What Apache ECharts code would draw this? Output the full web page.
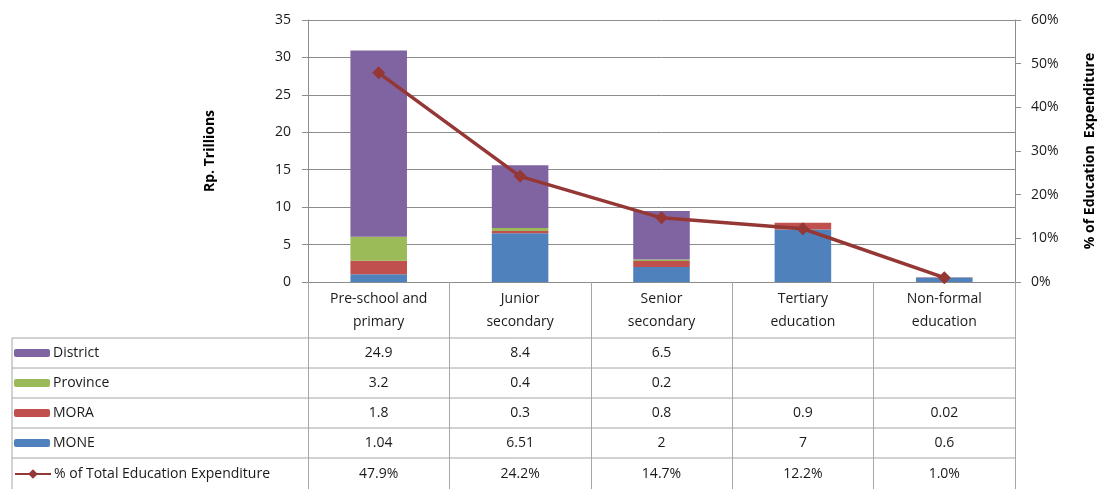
<!DOCTYPE html>
<html>
<head>
<meta charset="utf-8">
<script src="https://cdn.jsdelivr.net/npm/echarts@6/dist/echarts.min.js"></script>
<style>
  html, body { margin: 0; padding: 0; background: #fff; }
  #main { width: 1099px; height: 489px; }
</style>
</head>
<body>
<div id="main"></div>
<script>
const categories = ['Pre-school and\nprimary', 'Junior\nsecondary', 'Senior\nsecondary', 'Tertiary\neducation', 'Non-formal\neducation'];
const district = [24.9, 8.4, 6.5, null, null];
const province = [3.2, 0.4, 0.2, null, null];
const mora = [1.8, 0.3, 0.8, 0.9, 0.02];
const mone = [1.04, 6.51, 2, 7, 0.6];
const pctTotal = [47.9, 24.2, 14.7, 12.2, 1.0];

const FONT = 'Open Sans';
const TXT = '#1a1a1a';
const GRID_L = 308, GRID_R = 1015, GRID_T = 20, GRID_B = 282;
const rowCenters = [353, 383, 413, 443, 474];
const lineColor = '#953735';

const chartDom = document.getElementById('main');
const myChart = echarts.init(chartDom);

function rowAxis(vals, idx, fmt) {
    return {
        type: 'category',
        gridIndex: 0,
        position: 'bottom',
        offset: rowCenters[idx] - GRID_B,
        data: vals.map(v => (v == null ? '' : fmt(v))),
        axisLine: { show: false },
        axisTick: { show: false },
        axisLabel: {
            interval: 0, margin: 0, verticalAlign: 'middle',
            fontFamily: FONT, fontSize: 14, color: TXT
        }
    };
}

const legendNames = ['District', 'Province', 'MORA', 'MONE', '% of Total Education Expenditure'];
const legends = legendNames.map((n, i) => ({
    data: [n],
    left: 14,
    top: rowCenters[i] - 7,
    padding: 0,
    itemGap: 0,
    itemWidth: 36,
    itemHeight: i < 4 ? 8 : 12,
    textStyle: { fontFamily: FONT, fontSize: 14, color: TXT, padding: [0, 0, 0, -2] },
    selectedMode: false
}));

// table lines (left legend column and row separators)
const tableLines = [];
[338, 368, 398, 428, 458].forEach(y => {
    tableLines.push({ type: 'line', shape: { x1: 12, y1: y, x2: GRID_R, y2: y }, style: { stroke: '#a6a6a6', lineWidth: 1 } });
});
tableLines.push({ type: 'line', shape: { x1: 12, y1: 338, x2: 12, y2: 489 }, style: { stroke: '#a6a6a6', lineWidth: 1 } });

const option = {
    animation: false,
    grid: {
        left: GRID_L, right: 1099 - GRID_R, top: GRID_T, bottom: 489 - GRID_B,
        containLabel: false, outerBoundsMode: 'none'
    },
    legend: legends,
    graphic: tableLines,
    xAxis: [
        {
            type: 'category',
            data: categories,
            axisLine: { lineStyle: { color: '#8c8c8c' } },
            axisTick: { show: true, interval: 0, length: 207, lineStyle: { color: '#a6a6a6' } },
            axisLabel: {
                interval: 0, margin: 6, lineHeight: 23,
                fontFamily: FONT, fontSize: 14, color: TXT
            }
        },
        rowAxis(district, 0, v => String(v)),
        rowAxis(province, 1, v => String(v)),
        rowAxis(mora, 2, v => String(v)),
        rowAxis(mone, 3, v => String(v)),
        rowAxis(pctTotal, 4, v => v.toFixed(1) + '%')
    ],
    yAxis: [
        {
            type: 'value', min: 0, max: 35, interval: 5,
            name: 'Rp. Trillions', nameLocation: 'middle', nameGap: 91, nameRotate: 90,
            nameTextStyle: { fontFamily: FONT, fontSize: 14, fontWeight: 'bold', color: '#000' },
            axisLine: { show: true, lineStyle: { color: '#8c8c8c' } },
            axisTick: { show: true, length: 6, lineStyle: { color: '#8c8c8c' } },
            axisLabel: { margin: 17, fontFamily: FONT, fontSize: 14, color: TXT },
            splitLine: { lineStyle: { color: '#8c8c8c', width: 1 } }
        },
        {
            type: 'value', min: 0, max: 60, interval: 10, position: 'right',
            name: '% of Education  Expenditure', nameLocation: 'middle', nameGap: 68, nameRotate: 90,
            nameTextStyle: { fontFamily: FONT, fontSize: 14, fontWeight: 'bold', color: '#000' },
            axisLine: { show: true, lineStyle: { color: '#8c8c8c' } },
            axisTick: { show: true, length: 6, lineStyle: { color: '#8c8c8c' } },
            axisLabel: { margin: 16, formatter: '{value}%', fontFamily: FONT, fontSize: 14, color: TXT },
            splitLine: { show: false }
        }
    ],
    series: [
        { name: 'MONE', type: 'bar', stack: 'a', data: mone, barWidth: '40%', itemStyle: { color: '#4f81bd' } },
        { name: 'MORA', type: 'bar', stack: 'a', data: mora, itemStyle: { color: '#c0504d' } },
        { name: 'Province', type: 'bar', stack: 'a', data: province, itemStyle: { color: '#9bbb59' } },
        { name: 'District', type: 'bar', stack: 'a', data: district, itemStyle: { color: '#8064a2' } },
        {
            name: '% of Total Education Expenditure', type: 'line', yAxisIndex: 1, data: pctTotal,
            symbol: 'diamond', symbolSize: 13, showSymbol: true,
            lineStyle: { color: lineColor, width: 3.5 },
            itemStyle: { color: lineColor }
        }
    ]
};

myChart.setOption(option);
window.addEventListener('resize', () => {
    myChart.resize();
});
</script>
</body>
</html>
